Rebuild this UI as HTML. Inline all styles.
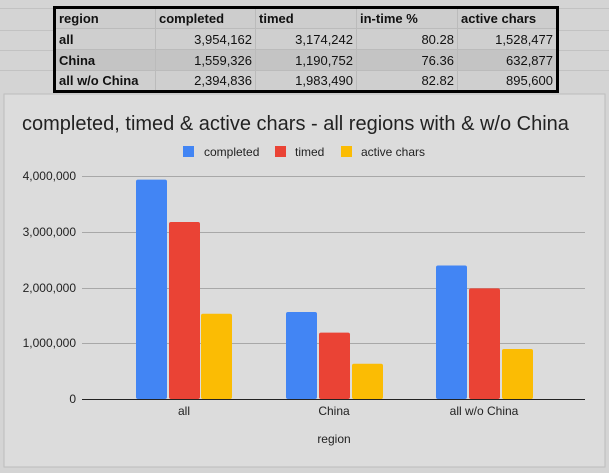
<!DOCTYPE html>
<html><head><style>
body{margin:0;width:609px;height:473px;background:#d4d4d4;position:relative;overflow:hidden;font-family:"Liberation Sans",Arial,sans-serif}
table{position:absolute;left:53px;top:6px;width:506px;table-layout:fixed;border-collapse:collapse;border:3px solid #000;font-size:13px}
td{height:21px;padding:0 3px;border:1px solid #bbb;color:#111;overflow:hidden;white-space:nowrap;box-sizing:border-box}
td:not(:first-child){text-align:right}
tr.h td{text-align:left;font-weight:bold;background:#cdcdcd}
tr.r1 td{background:#cfcfcf}tr.r2 td{background:#c4c4c4}tr.r3 td{background:#cfcfcf}
tr td:first-child{font-weight:bold}
</style></head><body>
<svg width="609" height="473" style="position:absolute;left:0;top:0">
<g stroke="#c2c2c2" stroke-width="1">
<line x1="0" y1="30.5" x2="609" y2="30.5"/><line x1="0" y1="50.5" x2="609" y2="50.5"/><line x1="0" y1="70.5" x2="609" y2="70.5"/>
<line x1="0" y1="8.5" x2="609" y2="8.5"/>
</g>
<rect x="4" y="94" width="601" height="373" fill="#dcdcdc" stroke="#bdbdbd"/>
<text x="22" y="130" font-size="20" fill="#222">completed, timed &amp; active chars - all regions with &amp; w/o China</text>
<rect x="183" y="146" width="11" height="11" fill="#4285f4"/><text x="204" y="156" font-size="12" fill="#222">completed</text>
<rect x="275" y="146" width="11" height="11" fill="#ea4335"/><text x="295" y="156" font-size="12" fill="#222">timed</text>
<rect x="341" y="146" width="11" height="11" fill="#fbbc04"/><text x="361" y="156" font-size="12" fill="#222">active chars</text>
<g stroke="#a8a8a8"><line x1="82" y1="176.5" x2="585" y2="176.5"/><line x1="82" y1="232.5" x2="585" y2="232.5"/><line x1="82" y1="288.5" x2="585" y2="288.5"/><line x1="82" y1="343.5" x2="585" y2="343.5"/></g>
<g font-size="12" fill="#222" text-anchor="end"><text x="76" y="180">4,000,000</text><text x="76" y="236">3,000,000</text><text x="76" y="292">2,000,000</text><text x="76" y="347">1,000,000</text><text x="76" y="403">0</text></g>
<g>
<rect x="136" y="179.6" width="31" height="219.4" rx="2" fill="#4285f4"/>
<rect x="169" y="222" width="31" height="177" rx="2" fill="#ea4335"/>
<rect x="201" y="313.8" width="31" height="85.2" rx="2" fill="#fbbc04"/>
<rect x="286" y="312" width="31" height="87" rx="2" fill="#4285f4"/>
<rect x="319" y="332.6" width="31" height="66.4" rx="2" fill="#ea4335"/>
<rect x="352" y="363.7" width="31" height="35.3" rx="2" fill="#fbbc04"/>
<rect x="436" y="265.5" width="31" height="133.5" rx="2" fill="#4285f4"/>
<rect x="469" y="288.4" width="31" height="110.6" rx="2" fill="#ea4335"/>
<rect x="502" y="349" width="31" height="50" rx="2" fill="#fbbc04"/>
</g>
<line x1="82" y1="399.5" x2="585" y2="399.5" stroke="#222"/>
<g font-size="12" fill="#222" text-anchor="middle"><text x="184" y="415">all</text><text x="334" y="415">China</text><text x="484" y="415">all w/o China</text><text x="334" y="443">region</text></g>
</svg>
<table>
<colgroup><col style="width:101px"><col style="width:100px"><col style="width:101px"><col style="width:101px"><col style="width:100px"></colgroup>
<tr class="h"><td>region</td><td>completed</td><td>timed</td><td>in-time %</td><td>active chars</td></tr>
<tr class="r1"><td>all</td><td>3,954,162</td><td>3,174,242</td><td>80.28</td><td>1,528,477</td></tr>
<tr class="r2"><td>China</td><td>1,559,326</td><td>1,190,752</td><td>76.36</td><td>632,877</td></tr>
<tr class="r3"><td>all w/o China</td><td>2,394,836</td><td>1,983,490</td><td>82.82</td><td>895,600</td></tr>
</table>
</body></html>
